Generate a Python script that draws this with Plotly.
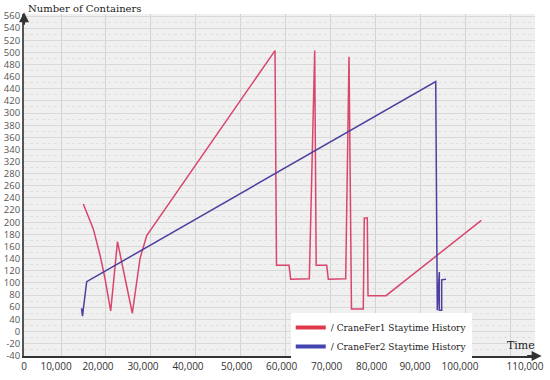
import plotly.graph_objects as go

# ---- data (time, containers on the chart's linear axis) ----
fer1_time = [14970, 17190, 18690, 19800, 21070, 22580, 25880, 27590, 29090,
             57660, 57990, 60780, 61150, 65300, 66500, 66830, 69170, 69530,
             73400, 74140, 74690, 77320, 77540, 78210, 78370, 82380, 103600]
fer1_count = [250, 209, 166, 127, 74, 188, 70, 160, 198,
              503, 149, 149, 126, 127, 503, 149, 149, 126,
              127, 493, 77, 77, 227, 227, 99, 99, 223]

fer2_time = [14570, 14790, 14970, 15720, 93450, 93800, 94250, 94250, 94780, 94780, 95740]
fer2_count = [78, 65, 77, 122, 452, 75, 138, 75, 75, 125, 126]

series_names = ["/ CraneFer1 Staytime History", "/ CraneFer2 Staytime History"]

y_tick_vals = list(range(0, 561, 20))
y_tick_text = ["-40", "-20", "0", "40", "60", "80", "100", "120", "140", "160",
               "180", "200", "220", "240", "260", "280", "320", "340", "360", "380",
               "300", "420", "440", "460", "480", "500", "520", "540", "560"]

x_tick_text = ["0", "10,000", "20,000", "30,000", "40,000", "50,000", "60,000",
               "70,000", "80,000", "90,000", "100,000", "110,000"]
x_tick_pos = [1800, 8890, 18240, 28260, 38280, 49130, 59150,
              69170, 79190, 88830, 98850, 113320]

RED = "#d8466c"
BLUE = "#4b3f9f"

fig = go.Figure()
fig.add_trace(go.Scatter(x=fer1_time, y=fer1_count, mode="lines",
                         line=dict(color=RED, width=1.5), showlegend=False,
                         name=series_names[0]))
fig.add_trace(go.Scatter(x=fer2_time, y=fer2_count, mode="lines",
                         line=dict(color=BLUE, width=1.5), showlegend=False,
                         name=series_names[1]))
# legend samples (thicker)
fig.add_trace(go.Scatter(x=[None], y=[None], mode="lines",
                         line=dict(color="#e03a4a", width=4), name=series_names[0]))
fig.add_trace(go.Scatter(x=[None], y=[None], mode="lines",
                         line=dict(color="#4545b0", width=4), name=series_names[1]))

slab = "DejaVu Serif"
fig.update_layout(
    width=550, height=380,
    margin=dict(l=24, r=15, t=14, b=24),
    paper_bgcolor="white", plot_bgcolor="#f0f0f0",
    showlegend=True,
    legend=dict(x=0.522, y=0.126, xanchor="left", yanchor="top",
                bgcolor="white", borderwidth=0,
                font=dict(family=slab, size=9, color="#222"),
                itemwidth=30, tracegroupgap=0),
    xaxis=dict(range=[1759, 115560], tickmode="array", tickvals=x_tick_pos,
               ticktext=x_tick_text, showgrid=False, zeroline=False,
               showline=True, linecolor="#333", linewidth=2, automargin=False,
               ticks="", tickfont=dict(family="Open Sans", size=10, color="#333"),
               minor=dict(tickmode="linear", tick0=0, dtick=10000, showgrid=True,
                          gridcolor="#d4d4d4", gridwidth=1, ticks="")),
    yaxis=dict(range=[-0.5, 563.3], tickmode="array", tickvals=y_tick_vals,
               ticktext=y_tick_text, showgrid=True, gridcolor="#d9d9d9",
               gridwidth=1, zeroline=False, showline=True, linecolor="#555",
               linewidth=2, ticks="", automargin=False,
               tickfont=dict(family="Open Sans", size=9.5, color="#555"),
               minor=dict(tickmode="linear", tick0=10, dtick=20, showgrid=True,
                          gridcolor="#e0e0e0", griddash="dot", gridwidth=1, ticks="")),
    annotations=[
        dict(text="Number of Containers", xref="paper", yref="paper", x=0.003, y=1.0,
             xanchor="left", yanchor="bottom", showarrow=False, yshift=-2,
             font=dict(family=slab, size=10, color="#222")),
        dict(text="Time", xref="paper", yref="paper", x=1.0, y=0.0,
             xanchor="right", yanchor="bottom", showarrow=False, xshift=2, yshift=2,
             font=dict(family=slab, size=11, color="#222")),
        # axis arrowheads
        dict(xref="paper", yref="paper", x=0, y=1.005, ax=0, ay=14,
             showarrow=True, arrowhead=2, arrowsize=1, arrowwidth=2,
             arrowcolor="#333", text=""),
        dict(xref="paper", yref="paper", x=1.013, y=0, ax=-16, ay=0,
             showarrow=True, arrowhead=2, arrowsize=1, arrowwidth=2,
             arrowcolor="#333", text=""),
    ],
)

fig.write_html("out.html", config={"displayModeBar": False},
               post_script="document.body.style.margin='0px';")
